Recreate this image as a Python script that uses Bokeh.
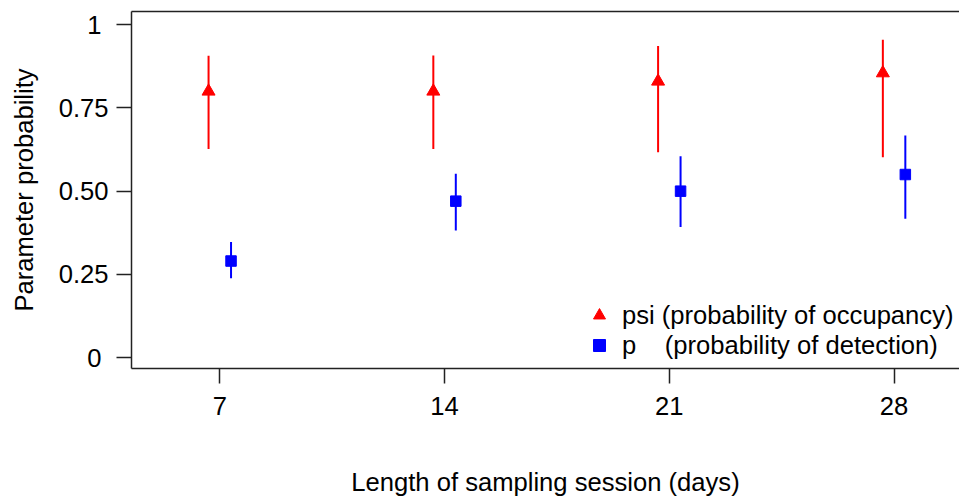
from bokeh.plotting import figure
from bokeh.models import (ColumnDataSource, Range1d, FixedTicker, LinearAxis,
                          Legend, LegendItem)
from bokeh.transform import dodge
from bokeh.embed import file_html
from bokeh.resources import INLINE

# ---- data ----
days = [7, 14, 21, 28]
psi = [0.80, 0.80, 0.83, 0.855]
psi_lo = [0.627, 0.627, 0.617, 0.602]
psi_hi = [0.907, 0.908, 0.936, 0.955]
p_est = [0.29, 0.47, 0.50, 0.55]
p_lo = [0.238, 0.382, 0.392, 0.417]
p_hi = [0.347, 0.552, 0.605, 0.667]
y_ticks = [0, 0.25, 0.5, 0.75, 1]
y_tick_labels = ["0\u00a0", "0.25", "0.50", "0.75", "1\u00a0"]
x_title = "Length of sampling session (days)"
y_title = "Parameter probability"
legend_labels = ["psi (probability of occupancy)",
                 "p\u00a0\u00a0\u00a0\u00a0(probability of detection)"]

# ---- styling ----
FONT = "Liberation Sans"
FS = "25.6px"
AXC = "#222222"
AXW = 1.5
RED = "#FF0000"
BLUE = "#0000FF"
OFF = 0.35

src = ColumnDataSource(dict(days=days, psi=psi, psi_lo=psi_lo, psi_hi=psi_hi,
                            p=p_est, p_lo=p_lo, p_hi=p_hi))

p = figure(width=959, height=502, output_backend="svg", toolbar_location=None,
           x_range=Range1d(4.25, 30.037), y_range=Range1d(-0.033, 1.040),
           min_border_left=131, min_border_right=0, min_border_top=11,
           min_border_bottom=134)
p.outline_line_color = None
p.xgrid.visible = False
p.ygrid.visible = False
p.background_fill_color = "white"
p.border_fill_color = "white"

# error bars
p.segment(x0=dodge("days", -OFF), y0="psi_lo", x1=dodge("days", -OFF), y1="psi_hi",
          source=src, line_color=RED, line_width=2)
p.segment(x0=dodge("days", OFF), y0="p_lo", x1=dodge("days", OFF), y1="p_hi",
          source=src, line_color=BLUE, line_width=2)
r_psi = p.scatter(x=dodge("days", -OFF), y="psi", source=src, marker="triangle",
                  size=13, color=RED)
r_p = p.scatter(x=dodge("days", OFF), y="p", source=src, marker="square",
                size=10.5, color=BLUE)

def style(ax):
    ax.axis_line_color = AXC
    ax.axis_line_width = AXW
    ax.major_tick_line_color = AXC
    ax.major_tick_line_width = AXW
    ax.major_tick_out = 15
    ax.major_tick_in = 0
    ax.minor_tick_line_color = None
    ax.major_label_text_font = FONT
    ax.major_label_text_font_size = FS
    ax.major_label_text_color = "black"
    ax.axis_label_text_font = FONT
    ax.axis_label_text_font_size = FS
    ax.axis_label_text_font_style = "normal"
    ax.axis_label_text_color = "black"

xa = p.xaxis[0]
style(xa)
xa.ticker = FixedTicker(ticks=days)
xa.major_label_standoff = 13
xa.axis_label = x_title
xa.axis_label_standoff = 50

ya = p.yaxis[0]
style(ya)
ya.ticker = FixedTicker(ticks=y_ticks)
ya.major_label_overrides = {t: l for t, l in zip(y_ticks, y_tick_labels)}
ya.major_label_orientation = "horizontal"
ya.major_label_standoff = 8
ya.axis_label = y_title
ya.axis_label_standoff = 18

top = LinearAxis(ticker=FixedTicker(ticks=[]), axis_line_color=AXC, axis_line_width=AXW,
                 major_tick_line_color=None, minor_tick_line_color=None,
                 major_label_text_font_size="0px")
p.add_layout(top, "above")

legend = Legend(items=[LegendItem(label=legend_labels[0], renderers=[r_psi]),
                       LegendItem(label=legend_labels[1], renderers=[r_p])],
                location=(453, 8), glyph_width=30, glyph_height=30, label_height=30,
                label_standoff=8, padding=0, spacing=0, margin=0,
                border_line_alpha=0, background_fill_alpha=0,
                label_text_font=FONT, label_text_font_size=FS, label_text_color="black")
p.add_layout(legend)

open("out.html", "w").write(file_html(p, INLINE))
